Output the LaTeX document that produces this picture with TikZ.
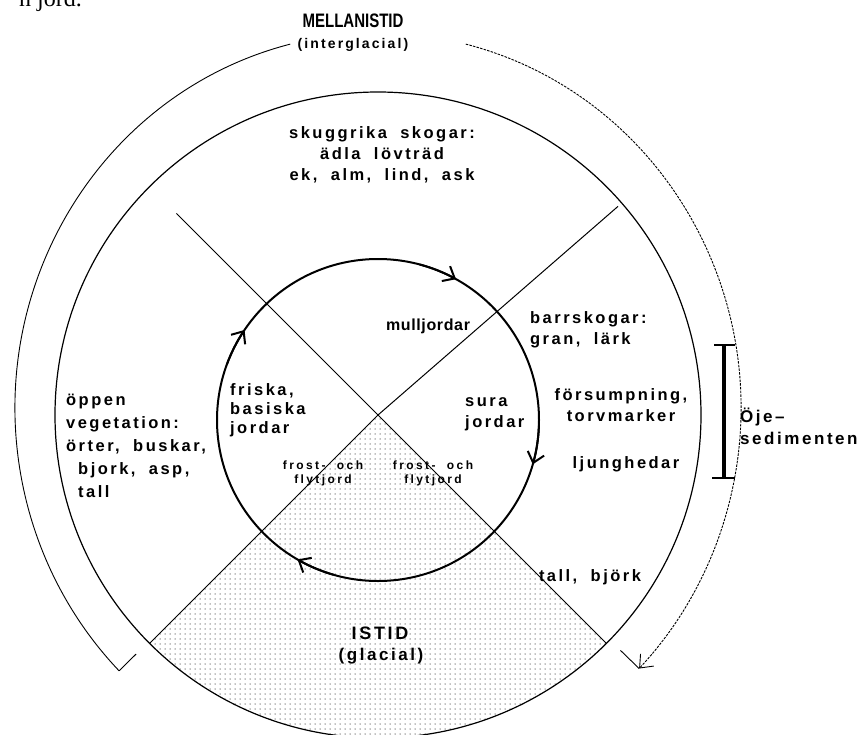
\documentclass[tikz,border=0pt]{standalone}
\usepackage{fontspec}
\setmainfont{Liberation Sans}
\newfontfamily\lblfont[LetterSpace=15,WordSpace=1.9]{Liberation Sans Bold}
\newfontfamily\tightfont[LetterSpace=4]{Liberation Sans Bold}
\newfontfamily\smallfont[LetterSpace=20,WordSpace=2]{Liberation Sans Bold}
\newfontfamily\titlefont{Liberation Sans Bold}
\newfontfamily\capfont{Liberation Serif}
\usetikzlibrary{arrows.meta,patterns.meta,calc}

\tikzdeclarepattern{
  name=icedots,
  type=uncolored,
  bounding box={(-2.5pt,-2.5pt) and (2.5pt,2.5pt)},
  tile size={(5pt,5pt)},
  code={\fill (0pt,0pt) circle (0.75pt);}
}

\begin{document}
\begin{tikzpicture}[x=1pt,y=-1pt,
  lbl/.style={font=\lblfont\fontsize{16.5}{21}\selectfont,align=center,inner sep=0pt},
  lblleft/.style={lbl,align=left,anchor=west},
  frost/.style={font=\smallfont\fontsize{12}{14}\selectfont,align=center,inner sep=0pt},
  big/.style={font=\lblfont\fontsize{18}{20}\selectfont,inner sep=0pt},
  zone/.style={line width=1.2pt},
  cyc/.style={line width=2pt,-{Straight Barb[length=10pt,width=17pt]}},
  era/.style={line width=0.9pt}]
\useasboundingbox (0,0) rectangle (865,734);
\coordinate (c) at (378,415);
\coordinate (ic) at (378,420);
\coordinate (oc) at (378,408);

\fill[pattern=icedots,pattern color=black!50] (c) -- ++(135:323) arc[start angle=135,end angle=45,radius=323] -- cycle;
\draw[zone] (c) circle[radius=323];
\draw[line width=1pt] (c) -- ++(-135:285);
\draw[line width=1pt] (c) -- ++(-41:318);
\draw[line width=1pt] (c) -- ++(135:323);
\draw[line width=1pt] (c) -- ++(45:323);

\draw[line width=2pt] (ic) circle[radius=161];
\draw[cyc] (ic) ++(-75:161) arc[start angle=-75,end angle=-61,radius=161];
\draw[cyc] (ic) ++(2:161) arc[start angle=2,end angle=16,radius=161];
\draw[cyc] (ic) ++(106:161) arc[start angle=106,end angle=120,radius=161];
\draw[cyc] (ic) ++(-160:161) arc[start angle=-160,end angle=-146,radius=161];

\coordinate (lstart) at ($(oc)+(-104:363 and 375)$);
\coordinate (lend) at ($(oc)+(-224.5:363 and 375)$);
\coordinate (rstart) at ($(oc)+(-76:363 and 375)$);
\coordinate (rend) at ($(oc)+(44:363 and 375)$);
\draw[era] (lstart) arc[start angle=-104,end angle=-224.5,x radius=363,y radius=375];
\draw[era] (lend) -- ($(lend)!24pt!(c)$);
\draw[era,dash pattern=on 2.5pt off 1.2pt,-{Straight Barb[length=11pt,width=18pt]}] (rstart) arc[start angle=-76,end angle=44,x radius=363,y radius=375];
\draw[era] (rend) -- ($(rend)!26pt!(c)$);

\node[inner sep=0pt] (mell) at (353,21) {\scalebox{1}[1.3]{\titlefont\fontsize{15}{16}\selectfont MELLANISTID}};
\node[big,font=\lblfont\fontsize{14}{16}\selectfont] (inter) at (353,45) {(interglacial)};
\node[big] (istid) at (380,633) {ISTID};
\node[big,font=\lblfont\fontsize{17}{18}\selectfont] (glac) at (381,656) {(glacial)};

\node[lbl] (skugg) at (382,155) {skuggrika skogar:\\ädla lövträd\\ek, alm, lind, ask};
\node[lbl,font=\tightfont\fontsize{16}{18}\selectfont] (mull) at (428,326) {mulljordar};
\node[lblleft] (barr) at (530,330) {barrskogar:\\gran, lärk};
\node[lbl] (forsump) at (621,405) {försumpning,\\torvmarker};
\node[lbl] (ljung) at (626,464) {ljunghedar};
\node[lbl] (tallb) at (590,577) {tall, björk};
\node[lblleft] (sura) at (465,414) {sura\\jordar};
\node[lblleft,font=\lblfont\fontsize{16.5}{19}\selectfont] (friska) at (230,410) {friska,\\basiska\\jordar};
\node[lblleft,font=\lblfont\fontsize{16.5}{23}\selectfont] (oppen) at (66,446) {öppen\\vegetation:\\örter, buskar,\\\hspace*{12pt}bjork, asp,\\\hspace*{12pt}tall};
\node[frost] (frostl) at (323,473) {frost- och\\flytjord};
\node[frost] (frostr) at (433,473) {frost- och\\flytjord};

\draw[line width=4pt] (724,345) -- (724,478);
\draw[line width=2pt] (714,345) -- (735,345);
\draw[line width=2pt] (712,478) -- (735,478);
\node[lblleft,font=\lblfont\fontsize{17}{22}\selectfont] (oje) at (740,426) {Öje–\\sedimenten};

\node[font=\capfont\fontsize{24}{24}\selectfont,anchor=base east,inner sep=0pt] (capt) at (82,6) {n jord.};
\end{tikzpicture}
\end{document}
